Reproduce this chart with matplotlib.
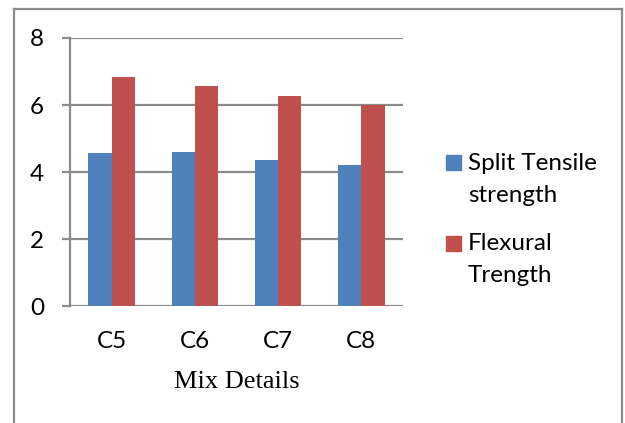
import matplotlib
matplotlib.use("Agg")
import matplotlib.pyplot as plt
from matplotlib.lines import Line2D
from matplotlib.patches import Rectangle
import numpy as np

mixes = ["C5", "C6", "C7", "C8"]
split_tensile = [4.57, 4.61, 4.35, 4.21]
flexural = [6.84, 6.57, 6.28, 6.01]
series_names = ["Split Tensile\nstrength", "Flexural\nTrength"]
series_colors = ["#4F81BD", "#C0504D"]

W, H = 625, 423
fig = plt.figure(figsize=(W / 100, H / 100), dpi=100)

def px(x, y):
    # pixel coords (top-left origin) -> figure fraction
    return x / W, 1 - y / H

# plot area
x0, y0 = px(70, 306)
x1, y1 = px(403, 38)
ax = fig.add_axes([x0, y0, x1 - x0, y1 - y0])

grid_col = "#8c8c8c"
x = np.arange(len(mixes))
w = 0.28
ax.bar(x - w / 2, split_tensile, w, color=series_colors[0], zorder=3)
ax.bar(x + w / 2, flexural, w, color=series_colors[1], zorder=3)

ax.set_xlim(-0.5, len(mixes) - 0.5)
ax.set_ylim(0, 8)
ax.set_yticks([0, 2, 4, 6, 8])
ax.set_xticks(x)
ax.set_xticklabels(mixes)
ax.yaxis.grid(True, color=grid_col, linewidth=1.6, zorder=0)
ax.set_axisbelow(True)

for s in ["top", "right", "bottom"]:
    ax.spines[s].set_visible(False)
ax.spines["left"].set_color(grid_col)
ax.spines["left"].set_linewidth(1.6)

fs = 17.5
ax.tick_params(axis="y", length=5.8, width=1.6, color=grid_col, pad=13)
ax.tick_params(axis="x", length=0, pad=18)
for lab in ax.get_xticklabels() + ax.get_yticklabels():
    lab.set_fontfamily("Lato")
    lab.set_fontsize(fs)

fig.text(*px(237, 382), "Mix Details", family="Liberation Serif", size=19,
         ha="center", va="center")

# legend: squares aligned with the first line of each label
legend_rows = [(155, 170), (236, 250)]
for name, color, (top, base) in zip(series_names, series_colors, legend_rows):
    lx, ly = px(446, top + 15)
    fig.patches.append(Rectangle((lx, ly), 15 / W, 15 / H, transform=fig.transFigure,
                                 color=color, figure=fig))
    for i, line in enumerate(name.split("\n")):
        fig.text(*px(468, base + i * 32), line, family="Lato", size=fs, va="baseline")

# outer frame (open at the bottom)
frame = [((14, 14), (9, H + 5)), ((14, 622), (9, 9)), ((622, 622), (9, H + 5))]
for xs, ys in frame:
    fig.lines.append(Line2D([v / W for v in xs], [1 - v / H for v in ys],
                            transform=fig.transFigure, color="#8a8a8a", linewidth=1.6))

fig.savefig("out.png", dpi=100)
